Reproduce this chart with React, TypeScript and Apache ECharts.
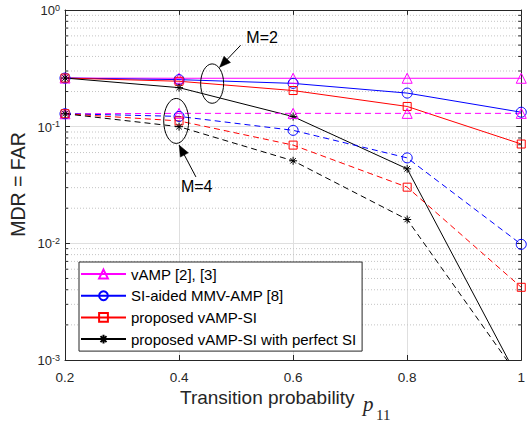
import React, { useEffect, useRef } from 'react';
import * as echarts from 'echarts';

// ---- data ----
const pValues = [0.2, 0.4, 0.6, 0.8, 1];
const xTickLabels = ['0.2', '0.4', '0.6', '0.8', '1'];
const yTickExponents = ['-3', '-2', '-1', '0'];
const yDecades = [0.001, 0.01, 0.1];
const minorFactors = [2, 3, 4, 5, 6, 7, 8, 9];

const seriesNames = [
  'vAMP [2], [3]',
  'SI-aided MMV-AMP [8]',
  'proposed vAMP-SI',
  'proposed vAMP-SI with perfect SI',
];

// M = 2 (solid)
const vampM2 = [0.261, 0.26, 0.26, 0.26, 0.26];
const siM2 = [0.261, 0.253, 0.235, 0.194, 0.133];
const propM2 = [0.261, 0.245, 0.204, 0.149, 0.071];
const perfM2 = [0.261, 0.216, 0.122, 0.0435, 0.00062];
// M = 4 (dashed)
const vampM4 = [0.129, 0.13, 0.13, 0.13, 0.13];
const siM4 = [0.129, 0.1225, 0.093, 0.054, 0.0098];
const propM4 = [0.129, 0.112, 0.0695, 0.0303, 0.0042];
const perfM4 = [0.129, 0.1, 0.051, 0.016, 0.00067];

const m2Series = [vampM2, siM2, propM2, perfM2];
const m4Series = [vampM4, siM4, propM4, perfM4];

// annotation anchors (data space)
const annM2Center = [0.458, 0.234];
const annM4Center = [0.395, 0.112];

const colors = ['#ff00ff', '#0000ff', '#ff0000', '#000000'];
const asterisk = 'path://M5,0L5,10M0,5L10,5M1.6,1.6L8.4,8.4M1.6,8.4L8.4,1.6';
const symbols = ['triangle', 'circle', 'rect', asterisk];
const symbolSizes = [10, 10, 8, 8];
const AX = '#262626';
const FONT = '"Liberation Sans", Arial, Helvetica, sans-serif';

function buildLineSeries() {
  const out: any[] = [];
  [m2Series, m4Series].forEach((group, gi) => {
    group.forEach((vals, i) => {
      out.push({
        type: 'line',
        name: seriesNames[i],
        xAxisIndex: 0,
        yAxisIndex: 0,
        data: vals.map((v, k) => [pValues[k], v]),
        symbol: symbols[i],
        symbolSize: symbolSizes[i],
        showSymbol: true,
        showAllSymbol: true,
        clip: true,
        z: 3,
        lineStyle: {
          color: colors[i],
          width: 1,
          type: gi === 0 ? 'solid' : [6, 4],
        },
        itemStyle: {
          color: 'transparent',
          borderColor: colors[i],
          borderWidth: 1,
        },
        emphasis: { disabled: true },
      });
    });
  });
  return out;
}

const minorValues: number[][] = [];
yDecades.forEach((d) => minorFactors.forEach((f) => minorValues.push([0.2, d * f])));

export default function App() {
  const ref = useRef<HTMLDivElement>(null);
  useEffect(() => {
    if (!ref.current) return;
    const chart = echarts.init(ref.current, undefined, { renderer: 'svg' });
    const option: any = {
      animation: false,
      backgroundColor: '#ffffff',
      grid: { left: 65, right: 3, top: 7, bottom: 62, containLabel: false },
      xAxis: [
        {
          type: 'value',
          min: 0.2,
          max: 1,
          interval: 0.2,
          position: 'bottom',
          axisLine: { show: true, onZero: false, lineStyle: { color: AX, width: 1 } },
          axisTick: { show: true, inside: true, length: 5, lineStyle: { color: AX } },
          axisLabel: {
            margin: 10,
            color: AX,
            fontSize: 13.5,
            fontFamily: FONT,
            formatter: (v: number) => xTickLabels[Math.round((v - 0.2) / 0.2)] ?? '',
          },
          splitLine: { show: true, lineStyle: { color: '#dfdfdf', width: 1 } },
        },
        {
          type: 'value',
          min: 0.2,
          max: 1,
          interval: 0.2,
          position: 'top',
          axisLine: { show: true, onZero: false, lineStyle: { color: AX, width: 1 } },
          axisTick: { show: true, inside: true, length: 5, lineStyle: { color: AX } },
          axisLabel: { show: false },
          splitLine: { show: false },
        },
      ],
      yAxis: [
        {
          type: 'log',
          logBase: 10,
          min: 0.001,
          max: 1,
          splitNumber: 3,
          position: 'left',
          axisLine: { show: true, onZero: false, lineStyle: { color: AX, width: 1 } },
          axisTick: { show: true, inside: true, length: 5, lineStyle: { color: AX } },
          axisLabel: {
            margin: 5,
            color: AX,
            formatter: (v: number) => {
              const idx = Math.round(Math.log10(v)) + 3;
              return '{b|10}{s|' + (yTickExponents[idx] ?? '') + '}';
            },
            rich: {
              b: {
                fontSize: 13,
                fontFamily: FONT,
                color: AX,
                lineHeight: 14,
                padding: [4, 0, 0, 0],
                verticalAlign: 'bottom',
              },
              s: { fontSize: 9, fontFamily: FONT, color: AX, lineHeight: 10, verticalAlign: 'top' },
            },
          },
          splitLine: { show: true, lineStyle: { color: '#dfdfdf', width: 1 } },
        },
        {
          type: 'log',
          logBase: 10,
          min: 0.001,
          max: 1,
          splitNumber: 3,
          position: 'right',
          axisLine: { show: true, onZero: false, lineStyle: { color: AX, width: 1 } },
          axisTick: { show: true, inside: true, length: 5, lineStyle: { color: AX } },
          axisLabel: { show: false },
          splitLine: { show: false },
        },
      ],
      legend: {
        show: true,
        orient: 'vertical',
        left: 79,
        top: 262,
        data: seriesNames,
        itemWidth: 45,
        itemHeight: 11,
        itemGap: 6.7,
        padding: [4.5, 6, 4.5, 1],
        backgroundColor: '#ffffff',
        borderColor: AX,
        borderWidth: 1,
        borderRadius: 0,
        selectedMode: false,
        textStyle: { fontSize: 15, fontFamily: FONT, color: '#000', lineHeight: 14 },
      },
      series: [
        {
          type: 'custom',
          name: 'minorGrid',
          xAxisIndex: 0,
          yAxisIndex: 0,
          silent: true,
          z: 1,
          data: minorValues,
          renderItem: (_params: any, api: any) => {
            const v = api.value(1);
            const a = api.coord([0.2, v]);
            const b = api.coord([1, v]);
            return {
              type: 'group',
              children: [
                {
                  type: 'line',
                  shape: { x1: a[0], y1: a[1], x2: b[0], y2: b[1] },
                  style: { stroke: '#c4c4c4', lineWidth: 1, lineDash: [1, 2] },
                },
                {
                  type: 'line',
                  shape: { x1: a[0], y1: a[1], x2: a[0] + 3, y2: a[1] },
                  style: { stroke: AX, lineWidth: 1 },
                },
                {
                  type: 'line',
                  shape: { x1: b[0] - 3, y1: b[1], x2: b[0], y2: b[1] },
                  style: { stroke: AX, lineWidth: 1 },
                },
              ],
            };
          },
        },
        ...buildLineSeries(),
      ],
    };
    chart.setOption(option);

    const arrowHead = (tip: number[], tail: number[]) => {
      const dx = tip[0] - tail[0];
      const dy = tip[1] - tail[1];
      const len = Math.sqrt(dx * dx + dy * dy);
      const ux = dx / len;
      const uy = dy / len;
      const L = 11;
      const W = 4.5;
      const bx = tip[0] - ux * L;
      const by = tip[1] - uy * L;
      return [
        [tip[0], tip[1]],
        [bx - uy * W, by + ux * W],
        [bx + uy * W, by - ux * W],
      ];
    };

    const makeAnn = (
      center: number[],
      rx: number,
      ry: number,
      tipOff: number[],
      tailOff: number[],
      textOff: number[],
      label: string,
    ) => {
      const c = chart.convertToPixel({ gridIndex: 0 }, center) as number[];
      const tip = [c[0] + tipOff[0], c[1] + tipOff[1]];
      const tail = [c[0] + tailOff[0], c[1] + tailOff[1]];
      return [
        {
          type: 'ellipse',
          shape: { cx: c[0], cy: c[1], rx, ry },
          style: { fill: 'none', stroke: '#000', lineWidth: 1 },
          z: 10,
        },
        {
          type: 'line',
          shape: { x1: tail[0], y1: tail[1], x2: tip[0], y2: tip[1] },
          style: { stroke: '#000', lineWidth: 1 },
          z: 10,
        },
        {
          type: 'polygon',
          shape: { points: arrowHead(tip, tail) },
          style: { fill: '#000', stroke: '#000', lineWidth: 0.5 },
          z: 10,
        },
        {
          type: 'text',
          x: c[0] + textOff[0],
          y: c[1] + textOff[1],
          style: {
            text: label,
            fontSize: 16,
            fontFamily: FONT,
            fill: '#000',
            align: 'left',
            verticalAlign: 'middle',
          },
          z: 10,
        },
      ];
    };

    chart.setOption({
      graphic: [
        ...makeAnn(annM2Center, 11.5, 19.7, [7.5, -16.3], [28.5, -38.3], [34.2, -46.3], 'M=2'),
        ...makeAnn(annM4Center, 12.5, 22.5, [3, 24.3], [19.7, 56], [4.7, 66], 'M=4'),
        {
          type: 'text',
          x: 17.5,
          y: 184.5,
          rotation: Math.PI / 2,
          style: {
            text: 'MDR = FAR',
            fontSize: 19.5,
            fontFamily: FONT,
            fill: AX,
            align: 'center',
            verticalAlign: 'middle',
          },
        },
        {
          type: 'text',
          x: 180,
          y: 397,
          style: {
            text: 'Transition probability',
            fontSize: 19,
            fontFamily: FONT,
            fill: AX,
            align: 'left',
            verticalAlign: 'middle',
          },
        },
        {
          type: 'text',
          x: 363,
          y: 404,
          style: {
            text: 'p',
            fontSize: 21,
            fontStyle: 'italic',
            fontFamily: '"Liberation Serif", "DejaVu Serif", serif',
            fill: AX,
            align: 'left',
            verticalAlign: 'middle',
          },
        },
        {
          type: 'text',
          x: 376,
          y: 415,
          style: {
            text: '11',
            fontSize: 15,
            fontFamily: '"Liberation Serif", "DejaVu Serif", serif',
            fill: AX,
            align: 'left',
            verticalAlign: 'middle',
          },
        },
      ],
    });

    return () => chart.dispose();
  }, []);
  return (
    <div
      ref={ref}
      style={{ position: 'absolute', left: 0, top: 0, width: 528, height: 422, background: '#fff' }}
    />
  );
}
